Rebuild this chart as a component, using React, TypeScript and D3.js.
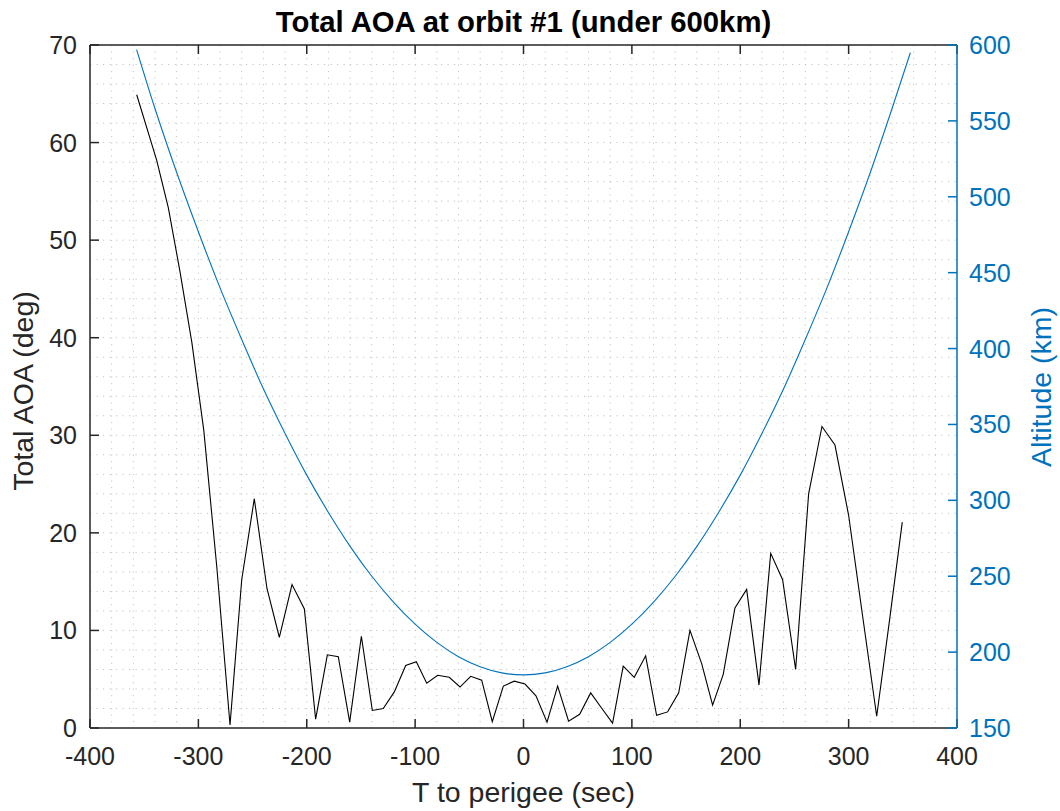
import React from "react";
import * as d3 from "d3";

const aoaTime = [-356.9, -338.5, -327.7, -317.0, -306.0, -295.0, -283.0, -270.8, -260.0, -248.4, -236.7, -225.3, -213.6, -202.2, -191.8, -181.0, -170.9, -160.4, -149.6, -139.5, -129.4, -119.2, -108.7, -98.9, -89.3, -79.2, -68.5, -58.6, -48.7, -38.6, -28.8, -18.6, -8.5, 1.4, 11.5, 21.7, 31.5, 41.6, 51.8, 62.0, 72.0, 82.2, 92.0, 102.2, 112.7, 122.8, 133.0, 143.2, 153.6, 164.4, 174.5, 184.3, 195.1, 205.9, 217.3, 228.1, 239.1, 251.1, 263.1, 275.4, 287.4, 300.0, 313.0, 325.9, 337.7, 349.5];
const aoaValues = [64.9, 58.2, 53.3, 46.8, 39.5, 30.5, 16.5, 0.3, 15.2, 23.5, 14.3, 9.3, 14.7, 12.2, 0.9, 7.5, 7.3, 0.6, 9.4, 1.8, 2.0, 3.7, 6.4, 6.8, 4.6, 5.4, 5.2, 4.2, 5.3, 4.9, 0.65, 4.3, 4.8, 4.5, 3.3, 0.6, 4.3, 0.7, 1.4, 3.6, 2.05, 0.5, 6.35, 5.2, 7.4, 1.3, 1.65, 3.6, 10.0, 6.6, 2.35, 5.5, 12.3, 14.2, 4.4, 17.9, 15.2, 6.0, 24.0, 30.9, 29.0, 21.8, 11.4, 1.2, 11.0, 21.1];

const altTime = [-357, -340, -320, -300, -280, -260, -240, -220, -200, -180, -160, -140, -120, -100, -80, -60, -40, -20, 0, 20, 40, 60, 80, 100, 120, 140, 160, 180, 200, 220, 240, 260, 280, 300, 320, 340, 357];
const altValues = [597, 558, 516, 477, 440, 406, 373.5, 344, 316.6, 292, 269.7, 250, 233, 218.4, 206.4, 197, 190.4, 186.3, 185, 186.3, 190.4, 197, 206.4, 218.4, 233, 250, 269.7, 292, 316.6, 344, 373.5, 406, 440, 477, 516, 558, 595];

const xTicks = [-400, -300, -200, -100, 0, 100, 200, 300, 400];
const leftTicks = [0, 10, 20, 30, 40, 50, 60, 70];
const rightTicks = [150, 200, 250, 300, 350, 400, 450, 500, 550, 600];

const titleText = "Total AOA at orbit #1 (under 600km)";
const xLabel = "T to perigee (sec)";
const yLeftLabel = "Total AOA (deg)";
const yRightLabel = "Altitude (km)";

const W = 1060, H = 811;
const L = 90, R = 957, T = 45, B = 728;
const BLUE = "#0072BD";
const AX = "#262626";
const FONT = "'Liberation Sans', Arial, Helvetica, sans-serif";

export default function App() {
  const x = d3.scaleLinear().domain([-400, 400]).range([L, R]);
  const yL = d3.scaleLinear().domain([0, 70]).range([B, T]);
  const yR = d3.scaleLinear().domain([150, 600]).range([B, T]);

  const aoaLine = d3.line<number>().x((_, i) => x(aoaTime[i])).y((d) => yL(d));
  const altLine = d3.line<number>().x((_, i) => x(altTime[i])).y((d) => yR(d)).curve(d3.curveMonotoneX);

  const xMinor = d3.range(-380, 400, 20);
  const yMinor = d3.range(2, 70, 2);
  const tickLen = 9;

  return (
    <svg width={W} height={H} style={{ position: "absolute", left: 0, top: 0, background: "#fff" }} fontFamily={FONT}>
      <rect x={0} y={0} width={W} height={H} fill="#fff" />
      {/* grid */}
      <g stroke="#c4c4c4" strokeWidth={1} strokeDasharray="1.2,5.3">
        {xMinor.map((v) => (
          <line key={"gx" + v} x1={x(v)} x2={x(v)} y1={T} y2={B} />
        ))}
        {yMinor.map((v) => (
          <line key={"gy" + v} x1={L} x2={R} y1={yL(v)} y2={yL(v)} />
        ))}
      </g>
      {/* data */}
      <path d={altLine(altValues) || ""} fill="none" stroke={BLUE} strokeWidth={1.1} />
      <path d={aoaLine(aoaValues) || ""} fill="none" stroke="#000" strokeWidth={1.1} />
      {/* axes */}
      <g stroke={AX} strokeWidth={1.5}>
        <line x1={L} x2={R} y1={B} y2={B} />
        <line x1={L} x2={R} y1={T} y2={T} />
        <line x1={L} x2={L} y1={T} y2={B} />
        {xTicks.map((v) => (
          <g key={"xt" + v}>
            <line x1={x(v)} x2={x(v)} y1={B} y2={B - tickLen} />
            <line x1={x(v)} x2={x(v)} y1={T} y2={T + tickLen} />
          </g>
        ))}
        {leftTicks.map((v) => (
          <line key={"lt" + v} x1={L} x2={L + tickLen} y1={yL(v)} y2={yL(v)} />
        ))}
      </g>
      <g stroke={BLUE} strokeWidth={1.5}>
        <line x1={R} x2={R} y1={T} y2={B} />
        {rightTicks.map((v) => (
          <line key={"rt" + v} x1={R} x2={R - tickLen} y1={yR(v)} y2={yR(v)} />
        ))}
      </g>
      {/* tick labels */}
      <g fill={AX} fontSize={25}>
        {xTicks.map((v) => (
          <text key={"xl" + v} x={x(v)} y={B + 37} textAnchor="middle">{v}</text>
        ))}
        {leftTicks.map((v) => (
          <text key={"ll" + v} x={L - 13} y={yL(v) + 9} textAnchor="end">{v}</text>
        ))}
      </g>
      <g fill={BLUE} fontSize={25}>
        {rightTicks.map((v) => (
          <text key={"rl" + v} x={R + 12} y={yR(v) + 9} textAnchor="start">{v}</text>
        ))}
      </g>
      {/* labels */}
      <text x={(L + R) / 2} y={802} textAnchor="middle" fontSize={28.5} fill={AX}>{xLabel}</text>
      <text transform={`translate(33,391) rotate(-90)`} textAnchor="middle" fontSize={28.5} fill={AX}>{yLeftLabel}</text>
      <text transform={`translate(1051,387) rotate(-90)`} textAnchor="middle" fontSize={28.5} fill={BLUE}>{yRightLabel}</text>
      <text x={(L + R) / 2} y={32} textAnchor="middle" fontSize={29.3} fontWeight="bold" fill="#000">{titleText}</text>
    </svg>
  );
}
